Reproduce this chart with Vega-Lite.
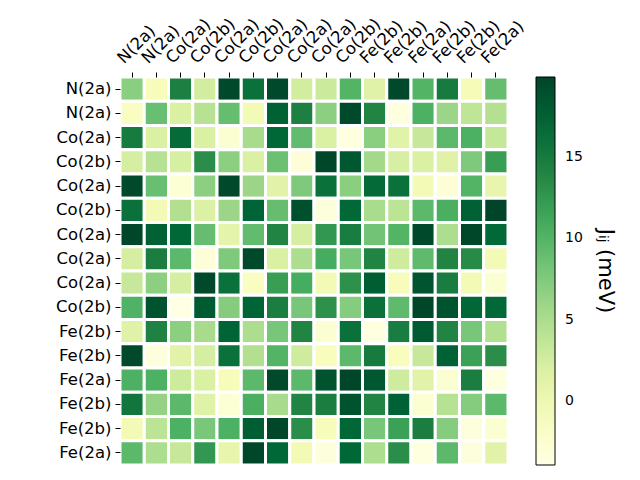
{
  "$schema": "https://vega.github.io/schema/vega-lite/v6.json",
  "width": 388,
  "height": 388,
  "autosize": {"type": "none"},
  "padding": {"left": 120, "top": 77, "right": 132, "bottom": 15},
  "background": "white",
  "config": {"view": {"stroke": null}, "font": "DejaVu Sans"},
  "data": {"values": [
{"r":0,"c":0,"v":7},{"r":0,"c":1,"v":-1},{"r":0,"c":2,"v":14.5},{"r":0,"c":3,"v":2.5},{"r":0,"c":4,"v":19.5},{"r":0,"c":5,"v":16},{"r":0,"c":6,"v":19.5},{"r":0,"c":7,"v":2.5},{"r":0,"c":8,"v":3},{"r":0,"c":9,"v":10},{"r":0,"c":10,"v":1.5},{"r":0,"c":11,"v":19.5},{"r":0,"c":12,"v":10},{"r":0,"c":13,"v":15},{"r":0,"c":14,"v":-0.8},{"r":0,"c":15,"v":9},
{"r":1,"c":0,"v":-1.5},{"r":1,"c":1,"v":8.8},{"r":1,"c":2,"v":2},{"r":1,"c":3,"v":4.3},{"r":1,"c":4,"v":9},{"r":1,"c":5,"v":-0.5},{"r":1,"c":6,"v":17.5},{"r":1,"c":7,"v":14.5},{"r":1,"c":8,"v":6.8},{"r":1,"c":9,"v":19.5},{"r":1,"c":10,"v":14},{"r":1,"c":11,"v":-3.5},{"r":1,"c":12,"v":10.3},{"r":1,"c":13,"v":6},{"r":1,"c":14,"v":3.8},{"r":1,"c":15,"v":4.5},
{"r":2,"c":0,"v":15},{"r":2,"c":1,"v":2},{"r":2,"c":2,"v":16.5},{"r":2,"c":3,"v":2},{"r":2,"c":4,"v":-2.5},{"r":2,"c":5,"v":5.3},{"r":2,"c":6,"v":17},{"r":2,"c":7,"v":9.2},{"r":2,"c":8,"v":2},{"r":2,"c":9,"v":-3.5},{"r":2,"c":10,"v":7},{"r":2,"c":11,"v":1.3},{"r":2,"c":12,"v":3.3},{"r":2,"c":13,"v":9.5},{"r":2,"c":14,"v":10.3},{"r":2,"c":15,"v":3.5},
{"r":3,"c":0,"v":2.3},{"r":3,"c":1,"v":4.3},{"r":3,"c":2,"v":2.2},{"r":3,"c":3,"v":13.3},{"r":3,"c":4,"v":6.8},{"r":3,"c":5,"v":2},{"r":3,"c":6,"v":8.7},{"r":3,"c":7,"v":-3},{"r":3,"c":8,"v":19.8},{"r":3,"c":9,"v":18.3},{"r":3,"c":10,"v":5.6},{"r":3,"c":11,"v":2.2},{"r":3,"c":12,"v":2},{"r":3,"c":13,"v":1.5},{"r":3,"c":14,"v":7.6},{"r":3,"c":15,"v":12},
{"r":4,"c":0,"v":19.5},{"r":4,"c":1,"v":8.8},{"r":4,"c":2,"v":-2.7},{"r":4,"c":3,"v":6.8},{"r":4,"c":4,"v":19.5},{"r":4,"c":5,"v":6},{"r":4,"c":6,"v":1.2},{"r":4,"c":7,"v":7.6},{"r":4,"c":8,"v":16},{"r":4,"c":9,"v":7},{"r":4,"c":10,"v":16.6},{"r":4,"c":11,"v":16},{"r":4,"c":12,"v":-0.5},{"r":4,"c":13,"v":-3},{"r":4,"c":14,"v":10},{"r":4,"c":15,"v":0.7},
{"r":5,"c":0,"v":16},{"r":5,"c":1,"v":-0.5},{"r":5,"c":2,"v":4.7},{"r":5,"c":3,"v":1.8},{"r":5,"c":4,"v":6},{"r":5,"c":5,"v":17.2},{"r":5,"c":6,"v":9},{"r":5,"c":7,"v":19},{"r":5,"c":8,"v":-3.3},{"r":5,"c":9,"v":16.8},{"r":5,"c":10,"v":5.2},{"r":5,"c":11,"v":4},{"r":5,"c":12,"v":9.5},{"r":5,"c":13,"v":10.5},{"r":5,"c":14,"v":17.5},{"r":5,"c":15,"v":19.9},
{"r":6,"c":0,"v":19.8},{"r":6,"c":1,"v":17.5},{"r":6,"c":2,"v":17},{"r":6,"c":3,"v":9},{"r":6,"c":4,"v":1},{"r":6,"c":5,"v":9.2},{"r":6,"c":6,"v":14},{"r":6,"c":7,"v":2.3},{"r":6,"c":8,"v":12.5},{"r":6,"c":9,"v":14.8},{"r":6,"c":10,"v":8.3},{"r":6,"c":11,"v":10},{"r":6,"c":12,"v":19.5},{"r":6,"c":13,"v":5},{"r":6,"c":14,"v":19.8},{"r":6,"c":15,"v":16.8},
{"r":7,"c":0,"v":2.3},{"r":7,"c":1,"v":14.6},{"r":7,"c":2,"v":9.5},{"r":7,"c":3,"v":-3},{"r":7,"c":4,"v":7.6},{"r":7,"c":5,"v":19.5},{"r":7,"c":6,"v":2},{"r":7,"c":7,"v":5},{"r":7,"c":8,"v":10.8},{"r":7,"c":9,"v":8},{"r":7,"c":10,"v":14},{"r":7,"c":11,"v":2.8},{"r":7,"c":12,"v":9.3},{"r":7,"c":13,"v":14},{"r":7,"c":14,"v":13.5},{"r":7,"c":15,"v":-0.5},
{"r":8,"c":0,"v":3.3},{"r":8,"c":1,"v":6.8},{"r":8,"c":2,"v":2.3},{"r":8,"c":3,"v":19.5},{"r":8,"c":4,"v":16},{"r":8,"c":5,"v":-1.5},{"r":8,"c":6,"v":12},{"r":8,"c":7,"v":10.8},{"r":8,"c":8,"v":-0.5},{"r":8,"c":9,"v":13},{"r":8,"c":10,"v":17.8},{"r":8,"c":11,"v":-1},{"r":8,"c":12,"v":18.5},{"r":8,"c":13,"v":14.8},{"r":8,"c":14,"v":-0.5},{"r":8,"c":15,"v":-2.5},
{"r":9,"c":0,"v":10.2},{"r":9,"c":1,"v":18.7},{"r":9,"c":2,"v":-3.8},{"r":9,"c":3,"v":18},{"r":9,"c":4,"v":7.2},{"r":9,"c":5,"v":17.2},{"r":9,"c":6,"v":14.6},{"r":9,"c":7,"v":8},{"r":9,"c":8,"v":13},{"r":9,"c":9,"v":7.2},{"r":9,"c":10,"v":16},{"r":9,"c":11,"v":9.3},{"r":9,"c":12,"v":19.8},{"r":9,"c":13,"v":18.7},{"r":9,"c":14,"v":17},{"r":9,"c":15,"v":16.8},
{"r":10,"c":0,"v":1.5},{"r":10,"c":1,"v":14.2},{"r":10,"c":2,"v":6.8},{"r":10,"c":3,"v":5.3},{"r":10,"c":4,"v":17.2},{"r":10,"c":5,"v":5},{"r":10,"c":6,"v":8},{"r":10,"c":7,"v":14},{"r":10,"c":8,"v":-2.5},{"r":10,"c":9,"v":16},{"r":10,"c":10,"v":-3.5},{"r":10,"c":11,"v":14.8},{"r":10,"c":12,"v":18},{"r":10,"c":13,"v":14},{"r":10,"c":14,"v":8},{"r":10,"c":15,"v":4.7},
{"r":11,"c":0,"v":19.5},{"r":11,"c":1,"v":-3.3},{"r":11,"c":2,"v":1.2},{"r":11,"c":3,"v":2.3},{"r":11,"c":4,"v":16},{"r":11,"c":5,"v":4.7},{"r":11,"c":6,"v":10},{"r":11,"c":7,"v":2.8},{"r":11,"c":8,"v":-1.2},{"r":11,"c":9,"v":9.5},{"r":11,"c":10,"v":15},{"r":11,"c":11,"v":-1.2},{"r":11,"c":12,"v":3.3},{"r":11,"c":13,"v":17.5},{"r":11,"c":14,"v":11.7},{"r":11,"c":15,"v":13.3},
{"r":12,"c":0,"v":10.3},{"r":12,"c":1,"v":10.3},{"r":12,"c":2,"v":2.9},{"r":12,"c":3,"v":2},{"r":12,"c":4,"v":-1},{"r":12,"c":5,"v":9.5},{"r":12,"c":6,"v":19.5},{"r":12,"c":7,"v":9.5},{"r":12,"c":8,"v":18.7},{"r":12,"c":9,"v":19.8},{"r":12,"c":10,"v":18.3},{"r":12,"c":11,"v":2.8},{"r":12,"c":12,"v":1.2},{"r":12,"c":13,"v":-2.5},{"r":12,"c":14,"v":14.6},{"r":12,"c":15,"v":-3.5},
{"r":13,"c":0,"v":15.5},{"r":13,"c":1,"v":6.4},{"r":13,"c":2,"v":9.5},{"r":13,"c":3,"v":1.5},{"r":13,"c":4,"v":-2.7},{"r":13,"c":5,"v":10.5},{"r":13,"c":6,"v":5.3},{"r":13,"c":7,"v":14},{"r":13,"c":8,"v":14.6},{"r":13,"c":9,"v":18.7},{"r":13,"c":10,"v":14},{"r":13,"c":11,"v":17.5},{"r":13,"c":12,"v":-2.5},{"r":13,"c":13,"v":4.3},{"r":13,"c":14,"v":7.2},{"r":13,"c":15,"v":9.5},
{"r":14,"c":0,"v":-0.5},{"r":14,"c":1,"v":4},{"r":14,"c":2,"v":10.3},{"r":14,"c":3,"v":7.9},{"r":14,"c":4,"v":10.3},{"r":14,"c":5,"v":17.8},{"r":14,"c":6,"v":19.7},{"r":14,"c":7,"v":13.3},{"r":14,"c":8,"v":-1},{"r":14,"c":9,"v":17},{"r":14,"c":10,"v":8},{"r":14,"c":11,"v":11.7},{"r":14,"c":12,"v":14.6},{"r":14,"c":13,"v":7.2},{"r":14,"c":14,"v":-3.3},{"r":14,"c":15,"v":-2.5},
{"r":15,"c":0,"v":9.5},{"r":15,"c":1,"v":5},{"r":15,"c":2,"v":3.3},{"r":15,"c":3,"v":12.5},{"r":15,"c":4,"v":0.7},{"r":15,"c":5,"v":19.7},{"r":15,"c":6,"v":17},{"r":15,"c":7,"v":-0.5},{"r":15,"c":8,"v":-3.3},{"r":15,"c":9,"v":17},{"r":15,"c":10,"v":5},{"r":15,"c":11,"v":13.3},{"r":15,"c":12,"v":-3.5},{"r":15,"c":13,"v":9.5},{"r":15,"c":14,"v":-3.3},{"r":15,"c":15,"v":1.2}
  ]},
  "mark": {"type": "rect", "stroke": "white", "strokeWidth": 3},
  "encoding": {
    "x": {
      "field": "c", "type": "ordinal",
      "scale": {"paddingInner": 0, "paddingOuter": 0},
      "axis": {
        "orient": "top", "title": null, "domain": false,
        "labelAngle": -45, "labelAlign": "left", "labelBaseline": "bottom",
        "labelFontSize": 16.5, "labelColor": "black", "labelPadding": 6,
        "labelOffset": -6,
        "tickColor": "black", "tickSize": 5, "labelFont": "DejaVu Sans",
        "labelExpr": "['N(2a)','N(2a)','Co(2a)','Co(2b)','Co(2a)','Co(2b)','Co(2a)','Co(2a)','Co(2a)','Co(2b)','Fe(2b)','Fe(2b)','Fe(2a)','Fe(2b)','Fe(2b)','Fe(2a)'][datum.value]"
      }
    },
    "y": {
      "field": "r", "type": "ordinal",
      "scale": {"paddingInner": 0, "paddingOuter": 0},
      "axis": {
        "orient": "left", "title": null, "domain": false,
        "labelFontSize": 16.5, "labelColor": "black", "labelPadding": 4,
        "tickColor": "black", "tickSize": 5, "labelFont": "DejaVu Sans",
        "labelExpr": "['N(2a)','N(2a)','Co(2a)','Co(2b)','Co(2a)','Co(2b)','Co(2a)','Co(2a)','Co(2a)','Co(2b)','Fe(2b)','Fe(2b)','Fe(2a)','Fe(2b)','Fe(2b)','Fe(2a)'][datum.value]"
      }
    },
    "color": {
      "field": "v", "type": "quantitative",
      "scale": {
        "domain": [-3.9, -0.925, 2.05, 5.025, 8.0, 10.975, 13.95, 16.925, 19.9],
        "range": ["#ffffe5", "#f7fcb9", "#d9f0a3", "#addd8e", "#78c679", "#41ab5d", "#238443", "#006837", "#004529"],
        "interpolate": "rgb"
      },
      "legend": {
        "title": "Jᵢⱼ (meV)",
        "orient": "right", "offset": 28, "padding": 0,
        "direction": "vertical",
        "gradientLength": 388, "gradientThickness": 19,
        "gradientStrokeColor": "black", "gradientStrokeWidth": 1,
        "values": [0, 5, 10, 15],
        "labelFontSize": 14, "labelColor": "black", "labelOffset": 10,
        "labelFont": "DejaVu Sans",
        "titleOrient": "right", "titleFontSize": 21, "titleFontWeight": "normal",
        "titleColor": "black", "titleAnchor": "middle", "titlePadding": 12,
        "titleFont": "DejaVu Sans"
      }
    }
  }
}
